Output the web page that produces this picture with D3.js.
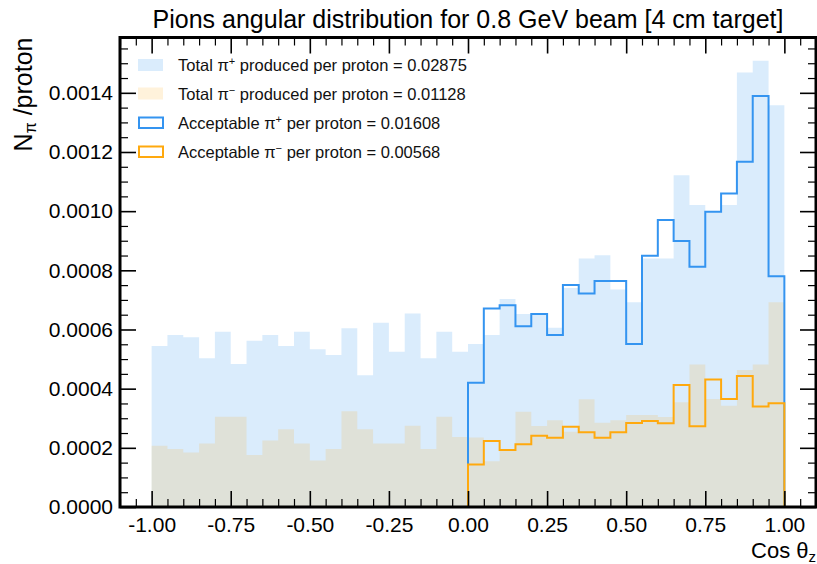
<!DOCTYPE html>
<html>
<head>
<meta charset="utf-8">
<script src="https://cdn.jsdelivr.net/npm/d3@7/dist/d3.min.js"></script>
<style>
  html, body { margin: 0; padding: 0; background: #fff; }
  svg { display: block; font-family: "Liberation Sans", Arial, Helvetica, sans-serif; }
</style>
</head>
<body>
<svg id="chart" width="817" height="564"></svg>
<script>
// ---------------- data ----------------
const binEdges = [-1.00,-0.95,-0.90,-0.85,-0.80,-0.75,-0.70,-0.65,-0.60,-0.55,
                  -0.50,-0.45,-0.40,-0.35,-0.30,-0.25,-0.20,-0.15,-0.10,-0.05,
                   0.00, 0.05, 0.10, 0.15, 0.20, 0.25, 0.30, 0.35, 0.40, 0.45,
                   0.50, 0.55, 0.60, 0.65, 0.70, 0.75, 0.80, 0.85, 0.90, 0.95, 1.00];

const totalPiPlus = [0.000544,0.000581,0.000574,0.000503,0.000592,0.000483,0.000562,0.000581,0.000544,0.000592,
                     0.000533,0.000514,0.000604,0.000445,0.000623,0.000525,0.000654,0.000503,0.000592,0.000525,
                     0.000551,0.000581,0.000703,0.000652,0.000652,0.000606,0.000740,0.000840,0.000851,0.000735,
                     0.000692,0.000840,0.000840,0.001121,0.001021,0.000998,0.001021,0.001469,0.001508,0.001358];

const totalPiMinus = [0.000207,0.000196,0.000184,0.000215,0.000305,0.000305,0.000176,0.000225,0.000263,0.000215,
                      0.000157,0.000196,0.000324,0.000263,0.000215,0.000215,0.000275,0.000196,0.000305,0.000237,
                      0.000235,0.000155,0.000193,0.000322,0.000274,0.000293,0.000254,0.000364,0.000285,0.000293,
                      0.000311,0.000311,0.000304,0.000354,0.000482,0.000365,0.000342,0.000463,0.000482,0.000692];

const acceptPiPlus = [0,0,0,0,0,0,0,0,0,0,
                      0,0,0,0,0,0,0,0,0,0,
                      0.000420,0.000671,0.000682,0.000611,0.000652,0.000581,0.000750,0.000722,0.000764,0.000764,
                      0.000551,0.000849,0.000970,0.000899,0.000812,0.000998,0.001060,0.001167,0.001389,0.000780];

const acceptPiMinus = [0,0,0,0,0,0,0,0,0,0,
                       0,0,0,0,0,0,0,0,0,0,
                       0.000144,0.000223,0.000193,0.000212,0.000241,0.000234,0.000271,0.000253,0.000234,0.000253,
                       0.000284,0.000291,0.000283,0.000412,0.000273,0.000431,0.000365,0.000443,0.000340,0.000351];

const xMajorTicks = [-1.00,-0.75,-0.50,-0.25,0.00,0.25,0.50,0.75,1.00];
const yMajorTicks = [0.0000,0.0002,0.0004,0.0006,0.0008,0.0010,0.0012,0.0014];
const xDomain = [-1.1, 1.1];
const yDomain = [0, 0.001587];

const blue = "#3494f0", orange = "#ffa90e";
const legendItems = [
  {pre: "Total \u03C0", sup: "+", post: " produced per proton = 0.02875", kind: "fill", color: blue, op: 0.18},
  {pre: "Total \u03C0", sup: "\u2212", post: " produced per proton = 0.01128", kind: "fill", color: orange, op: 0.15},
  {pre: "Acceptable \u03C0", sup: "+", post: " per proton = 0.01608", kind: "line", color: blue},
  {pre: "Acceptable \u03C0", sup: "\u2212", post: " per proton = 0.00568", kind: "line", color: orange}
];

// ---------------- layout ----------------
const L = 120, R = 816, T = 37.5, B = 507;
const svg = d3.select("#chart");
const x = d3.scaleLinear().domain(xDomain).range([L, R]);
const y = d3.scaleLinear().domain(yDomain).range([B, T]);

const xMinor = d3.range(-22, 23).map(i => i * 0.05).filter(v => !xMajorTicks.some(m => Math.abs(m - v) < 1e-9));
const yMinor = d3.range(0, 32).map(i => i * 0.00005).filter(v => v <= yDomain[1] && !yMajorTicks.some(m => Math.abs(m - v) < 1e-12));

const plot = svg.append("g");

function stepPoints(vals) {
  const pts = vals.map((v, i) => [binEdges[i], v]);
  pts.push([binEdges[binEdges.length - 1], vals[vals.length - 1]]);
  return pts;
}
const area = d3.area().x(d => x(d[0])).y0(y(0)).y1(d => y(d[1])).curve(d3.curveStepAfter);
plot.append("path").attr("d", area(stepPoints(totalPiPlus)))
  .attr("fill", blue).attr("fill-opacity", 0.18);
plot.append("path").attr("d", area(stepPoints(totalPiMinus)))
  .attr("fill", orange).attr("fill-opacity", 0.15);

const line = d3.line().x(d => x(d[0])).y(d => y(d[1])).curve(d3.curveStepAfter);
function outline(vals) {
  const pts = [[binEdges[0], 0]].concat(stepPoints(vals));
  pts.push([binEdges[binEdges.length - 1], 0]);
  return pts;
}
plot.append("path").attr("d", line(outline(acceptPiPlus)))
  .attr("fill", "none").attr("stroke", blue).attr("stroke-width", 2);
plot.append("path").attr("d", line(outline(acceptPiMinus)))
  .attr("fill", "none").attr("stroke", orange).attr("stroke-width", 2);

// ---------------- axes ----------------
const MAJ = 16, MIN = 8;
function styleAxis(g, w) {
  g.select(".domain").remove();
  g.selectAll(".tick line").attr("stroke", "#000").attr("stroke-width", w);
}
svg.append("g").attr("transform", `translate(0,${B})`)
  .call(d3.axisBottom(x).tickValues(xMinor).tickSize(-MIN).tickFormat(""))
  .call(g => styleAxis(g, 1.2));
svg.append("g").attr("transform", `translate(0,${B})`)
  .call(d3.axisBottom(x).tickValues(xMajorTicks).tickSize(-MAJ).tickPadding(10).tickFormat(d3.format(".2f")))
  .call(g => styleAxis(g, 1.6))
  .call(g => g.selectAll("text").attr("font-size", 21).attr("fill", "#000")
      .attr("font-family", "Liberation Sans, Arial, sans-serif").text(d => d3.format(".2f")(d).replace("\u2212", "-")));
svg.append("g").attr("transform", `translate(0,${T})`)
  .call(d3.axisTop(x).tickValues(xMinor).tickSize(-MIN).tickFormat(""))
  .call(g => styleAxis(g, 1.2));
svg.append("g").attr("transform", `translate(0,${T})`)
  .call(d3.axisTop(x).tickValues(xMajorTicks).tickSize(-MAJ).tickFormat(""))
  .call(g => styleAxis(g, 1.6));
svg.append("g").attr("transform", `translate(${L},0)`)
  .call(d3.axisLeft(y).tickValues(yMinor).tickSize(-MIN).tickFormat(""))
  .call(g => styleAxis(g, 1.2));
svg.append("g").attr("transform", `translate(${L},0)`)
  .call(d3.axisLeft(y).tickValues(yMajorTicks).tickSize(-MAJ).tickPadding(7).tickFormat(d3.format(".4f")))
  .call(g => styleAxis(g, 1.6))
  .call(g => g.selectAll("text").attr("font-size", 21).attr("fill", "#000")
      .attr("font-family", "Liberation Sans, Arial, sans-serif"));
svg.append("g").attr("transform", `translate(${R},0)`)
  .call(d3.axisRight(y).tickValues(yMinor).tickSize(-MIN).tickFormat(""))
  .call(g => styleAxis(g, 1.2));
svg.append("g").attr("transform", `translate(${R},0)`)
  .call(d3.axisRight(y).tickValues(yMajorTicks).tickSize(-MAJ).tickFormat(""))
  .call(g => styleAxis(g, 1.6));

svg.append("rect").attr("x", L).attr("y", T).attr("width", R - L).attr("height", B - T)
  .attr("fill", "none").attr("stroke", "#000").attr("stroke-width", 3);

// ---------------- title & labels ----------------
svg.append("text").attr("x", (L + R) / 2).attr("y", 28).attr("text-anchor", "middle")
  .attr("font-size", 25).attr("fill", "#000")
  .text("Pions angular distribution for 0.8 GeV beam [4 cm target]");

const xl = svg.append("text").attr("x", R).attr("y", 558).attr("text-anchor", "end")
  .attr("font-size", 22).attr("fill", "#000");
xl.append("tspan").text("Cos \u03B8");
xl.append("tspan").attr("font-size", 15).attr("dy", 4).text("z");

const yl = svg.append("text").attr("transform", `translate(32,${T}) rotate(-90)`)
  .attr("text-anchor", "end").attr("font-size", 25).attr("fill", "#000");
yl.append("tspan").text("N");
yl.append("tspan").attr("font-size", 16).attr("dy", 4).text("\u03C0");
yl.append("tspan").attr("dy", -4).text(" /proton");

// ---------------- legend ----------------
const legY = [65, 93.5, 122.5, 151.5];
const leg = svg.append("g");
legendItems.forEach((d, i) => {
  const cy = legY[i];
  if (d.kind === "fill") {
    leg.append("rect").attr("x", 138).attr("y", cy - 6).attr("width", 25).attr("height", 12)
      .attr("fill", d.color).attr("fill-opacity", d.op);
  } else {
    leg.append("rect").attr("x", 139).attr("y", cy - 5).attr("width", 24).attr("height", 10.5)
      .attr("fill", "none").attr("stroke", d.color).attr("stroke-width", 2);
  }
  const t = leg.append("text").attr("x", 178).attr("y", cy + 6).attr("font-size", 16.5).attr("fill", "#111");
  t.append("tspan").text(d.pre);
  t.append("tspan").attr("font-size", 11).attr("dy", -6).text(d.sup);
  t.append("tspan").attr("dy", 6).text(" " + d.post);
});
</script>
</body>
</html>
